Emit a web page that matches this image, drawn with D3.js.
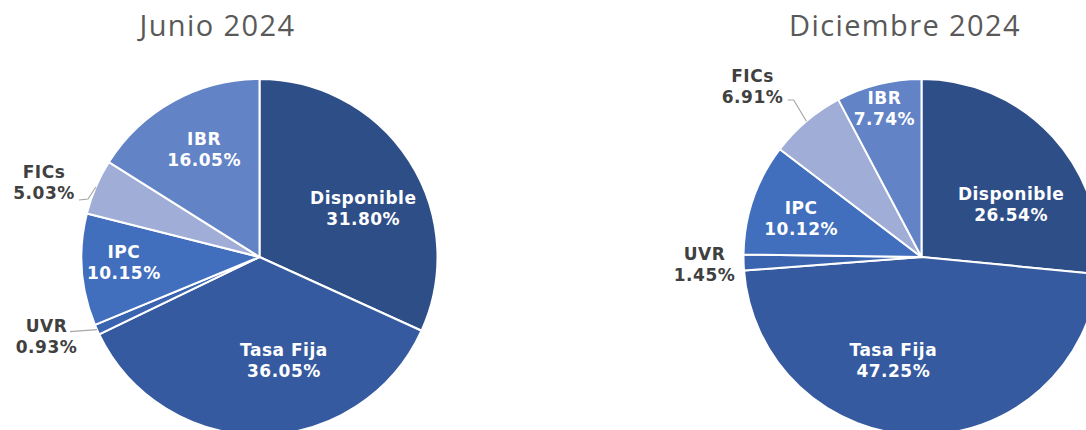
<!DOCTYPE html>
<html>
<head>
<meta charset="utf-8">
<script src="https://cdn.jsdelivr.net/npm/d3@7.9.0/dist/d3.min.js"></script>
<style>
  body { margin: 0; background: #fff; }
  svg { display: block; }
</style>
</head>
<body>
<svg id="chart" width="1086" height="430"></svg>
<script>
// data
const categories = ['Disponible', 'Tasa Fija', 'UVR', 'IPC', 'FICs', 'IBR'];
const junio = [31.80, 36.05, 0.93, 10.15, 5.03, 16.05];
const diciembre = [26.54, 47.25, 1.45, 10.12, 6.91, 7.74];
const titles = ['Junio 2024', 'Diciembre 2024'];

const colors = d3.scaleOrdinal()
  .domain(categories)
  .range(['#2E4E88', '#365A9F', '#3A64B0', '#416FBD', '#9FADD7', '#6383C7']);

const R = 178;
const labelR = 121;

// panel layout; label nudges / outside-label placement mimic the original
const panels = [
  {
    title: titles[0], values: junio, cx: 259.5, cy: 257, titleX: 217.5,
    nudge: { 'Disponible': [2, 16.5], 'Tasa Fija': [23, -18], 'IPC': [-15, -3], 'IBR': [3, -2] },
    outside: {
      'FICs': { label: [-215.5, -74.5], elbow: [-171.5, -58], end: [-180.5, -57] },
      'UVR': { label: [-213, 79], elbow: null, end: [-189.5, 74.7] }
    }
  },
  {
    title: titles[1], values: diciembre, cx: 921.5, cy: 257, titleX: 905,
    nudge: { 'Disponible': [0, 29], 'Tasa Fija': [-27, -18], 'IPC': [-6, 1], 'IBR': [-8, -31.5] },
    outside: {
      'FICs': { label: [-169, -170.6], elbow: [-127.8, -157], end: [-133.7, -157] },
      'UVR': { label: [-217, 7], elbow: null, end: null }
    }
  }
];

const svg = d3.select('#chart');
const pie = d3.pie().sort(null).value(d => d.value);
const arc = d3.arc().innerRadius(0).outerRadius(R);
const labelArc = d3.arc().innerRadius(labelR).outerRadius(labelR);
const edgeArc = d3.arc().innerRadius(R).outerRadius(R);

function addLines(g, lines, x, y, fill) {
  // y = vertical centre of the two-line block
  const t = g.append('text')
    .attr('x', x)
    .attr('y', y - 4.3)
    .attr('text-anchor', 'middle')
    .attr('font-family', 'DejaVu Sans, Verdana, sans-serif')
    .attr('font-weight', 'bold')
    .attr('font-size', 17)
    .attr('letter-spacing', 0.5)
    .attr('fill', fill);
  lines.forEach((s, i) => {
    t.append('tspan').attr('x', x).attr('dy', i === 0 ? 0 : 21).text(s);
  });
}

panels.forEach(p => {
  const data = categories.map((c, i) => ({ label: c, value: p.values[i] }));
  const arcs = pie(data);

  svg.append('text')
    .attr('x', p.titleX)
    .attr('y', 36)
    .attr('text-anchor', 'middle')
    .attr('font-family', 'Open Sans, sans-serif')
    .attr('font-size', 29)
    .attr('letter-spacing', 1.4)
    .attr('fill', '#595959')
    .text(p.title);

  const g = svg.append('g').attr('transform', `translate(${p.cx},${p.cy})`);

  g.selectAll('path.slice')
    .data(arcs)
    .enter()
    .append('path')
    .attr('class', 'slice')
    .attr('d', arc)
    .attr('fill', d => colors(d.data.label))
    .attr('stroke', '#fff')
    .attr('stroke-width', 2)
    .attr('stroke-linejoin', 'round');

  arcs.forEach(d => {
    const name = d.data.label;
    const lines = [name, d.data.value.toFixed(2) + '%'];
    const out = p.outside[name];
    if (out) {
      const start = edgeArc.centroid(d);
      if (out.end) {
        const pts = [start];
        if (out.elbow) pts.push(out.elbow);
        pts.push(out.end);
        g.append('path')
          .attr('d', d3.line()(pts))
          .attr('fill', 'none')
          .attr('stroke', '#A6A6A6')
          .attr('stroke-width', 1.2);
      }
      addLines(g, lines, out.label[0], out.label[1], '#404040');
    } else {
      const c = labelArc.centroid(d);
      const n = p.nudge[name] || [0, 0];
      addLines(g, lines, c[0] + n[0], c[1] + n[1], '#fff');
    }
  });
});
</script>
</body>
</html>
